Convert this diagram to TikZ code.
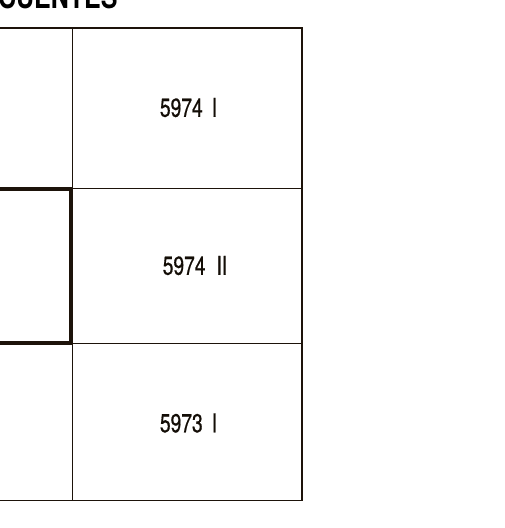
\documentclass[tikz,border=0pt]{standalone}
\usepackage{fontspec}
\setmainfont{TeX Gyre Heros}
\newfontfamily\condfont[FakeStretch=0.78]{TeX Gyre Heros}
\newfontfamily\sheetfont[FakeStretch=0.74, FakeBold=0.6]{TeX Gyre Heros}

\begin{document}
\begin{tikzpicture}[x = 1pt, y = -1pt, line join = miter]
		\useasboundingbox (0,0) rectangle (504,528);
		\tikzset{thin line/.style = {line width = 1.3pt, draw = black!85!brown},
			thick line/.style = {line width = 3.6pt, draw = black!85!brown},
			sheet/.style = {font = \sheetfont\fontsize{26}{26}\selectfont, text = black!90!brown, inner sep = 0pt}}
		% heading, cut by the page edge
		\node (title) at (-2,8) [anchor = base west, inner sep = 0pt, font = \condfont\bfseries\fontsize{32}{32}\selectfont] {CUENTES};
		
		\draw [thin line] (0,28) -- (302,28) -- (302,500.5) -- (0,500.5);
		\draw [thin line] (72.5,28) -- (72.5,500.5);
		\draw [thin line] (0,188.5) -- (302,188.5);
		\draw [thin line] (0,343.5) -- (302,343.5);
		\draw [thick line] (0,189) -- (70.5,189) -- (70.5,343) -- (0,343);
		
		\node (s1) at (188.5,107.5) [sheet] {5974\hspace{9pt}I};
		\node (s2) at (195,265.5) [sheet] {5974\hspace{11pt}II};
		\node (s3) at (188.5,423) [sheet] {5973\hspace{9pt}I};
		\end{tikzpicture}
\end{document}
